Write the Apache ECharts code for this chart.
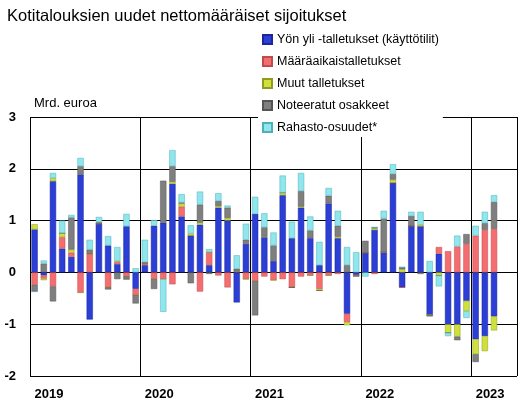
<!DOCTYPE html>
<html>
<head>
<meta charset="utf-8">
<script src="https://cdn.jsdelivr.net/npm/echarts@6/dist/echarts.min.js"></script>
<style>html,body{margin:0;background:#fff}#c{width:518px;height:408px}</style>
</head>
<body>
<div id="c"></div>
<script>
// months Jan 2019 .. May 2023 (last two empty)
const months = [];
for (let y = 2019; y <= 2023; y++) {
    for (let m = 1; m <= 12; m++) {
        if (y === 2023 && m > 5) break;
        months.push(y + '-' + m);
    }
}

const overnight = [0.83, -0.06, 1.76, 0.46, 0.3, 1.89, -0.91, 0.94, 0.52, 0.16, 0.89, -0.32,
    0.14, 0.9, 0.96, 1.71, 1.08, 0.71, 0.92, 0.14, 1.25, 1.0, -0.58, 0.55,
    1.13, 0.68, 0.22, 1.49, 0.66, 1.25, 0.66, 0.14, 1.33, 0.66, -0.8, -0.05,
    0.38, 0.82, 0.39, 1.73, -0.29, 0.9, 0.89, -0.82, 0.36, -1.0, -1.0, -0.55,
    -1.29, -1.23, -0.85, null, null];
const fixedTerm = [-0.24, -0.06, -0.27, 0.22, 0.08, -0.39, 0.36, 0, -0.29, 0.04, -0.08, -0.12,
    0.03, -0.13, -0.13, -0.23, 0.19, 0, -0.37, 0.25, -0.06, -0.29, 0.02, -0.13,
    -0.17, -0.08, -0.15, -0.13, -0.29, -0.08, -0.06, -0.32, -0.06, -0.03, -0.16, -0.02,
    0, -0.03, 0, 0, 0, 0, 0, 0, 0.13, 0.41, 0.5, 0.55,
    0.71, 0.82, 0.84, null, null];
const otherDeposits = [0.1, -0.03, 0.06, 0.08, 0.06, 0, 0, 0, 0, 0.02, 0, 0,
    0, 0, 0, 0.04, 0.06, 0.04, 0.04, 0, 0.03, 0.05, 0, 0,
    0, 0.01, 0, 0.05, 0, 0.02, 0, -0.03, 0, 0.03, -0.06, 0,
    0, 0.03, 0, 0.06, 0.06, 0, 0.03, 0, -0.06, -0.17, -0.24, -0.2,
    -0.29, -0.29, -0.27, null, null];
const listedShares = [-0.13, 0.17, -0.29, 0, 0.62, 0.16, 0.08, 0.03, -0.04, -0.13, -0.06, -0.16,
    0.03, -0.19, 0.81, 0.3, 0.02, -0.21, 0.35, -0.03, 0.1, 0.2, 0.05, 0.08,
    -0.66, 0.18, 0.3, 0, 0, 0.3, 0.15, 0, 0.15, 0.21, 0.14, 0,
    0.23, 0.02, 0.65, 0.11, 0.04, 0.19, -0.03, -0.03, 0, 0, -0.07, 0.19,
    -0.15, 0.13, 0.52, null, null];
const fundShares = [0, 0.06, 0.1, 0.24, 0.05, 0.16, 0.19, 0.1, 0.18, 0.27, 0.24, 0.08,
    0.43, 0.11, -0.63, 0.31, 0.16, 0.16, 0.25, 0.06, 0.15, 0.04, 0.26, 0.31,
    0.33, 0.27, 0.25, 0.33, 0.32, 0.35, 0.27, 0.45, 0.15, 0.29, 0.35, 0.39,
    -0.08, 0, 0.15, 0.19, 0, 0.08, 0.25, 0.22, -0.21, -0.06, 0.21, -0.13,
    0.19, 0.22, 0.13, null, null];

const seriesNames = ['Yön yli -talletukset (käyttötilit)', 'Määräaikaistalletukset',
    'Muut talletukset', 'Noteeratut osakkeet', 'Rahasto-osuudet*'];
const seriesData = [overnight, fixedTerm, otherDeposits, listedShares, fundShares];
const colors = ['#2b3ed6', '#f46e70', '#cfe03c', '#7f7f7f', '#8fe6ec'];
const borders = ['#1a2699', '#c04a4c', '#8f9c20', '#555555', '#4fb0b8'];

let chart = echarts.init(document.getElementById('c'));

const option = {
    animation: false,
    textStyle: { fontFamily: 'Liberation Sans, Arial, sans-serif' },
    title: {
        text: 'Kotitalouksien uudet nettomääräiset sijoitukset',
        left: 2, top: 3,
        textStyle: { fontSize: 16.5, fontWeight: 'normal', color: '#000' }
    },
    legend: {
        orient: 'vertical',
        left: 258, top: 30,
        itemGap: 9,
        itemWidth: 9, itemHeight: 9,
        backgroundColor: '#fff',
        padding: [3, 4, 3, 4],
        textStyle: { fontSize: 12.5, color: '#000' },
        data: seriesNames.map(function (n) { return { name: n, icon: 'rect' }; })
    },
    grid: { left: 30, right: 1, top: 117, bottom: 32 },
    graphic: [{
        type: 'text', left: 34, top: 97,
        style: { text: 'Mrd. euroa', fontSize: 13, fill: '#000' }
    }],
    xAxis: {
        type: 'category',
        data: months,
        axisLine: { show: false },
        axisTick: { show: false },
        axisLabel: {
            interval: 11, align: 'left', margin: 12,
            fontSize: 13, color: '#000', fontWeight: 'bold',
            formatter: function (v) { return v.split('-')[0]; }
        },
        splitLine: { show: true, interval: 11, lineStyle: { color: '#000', width: 1 } }
    },
    yAxis: {
        type: 'value',
        min: -2, max: 3, interval: 1,
        axisLine: { show: false },
        axisTick: { show: false },
        axisLabel: { fontSize: 13, color: '#000', fontWeight: 'bold', margin: 14 },
        splitLine: { lineStyle: { color: '#000', width: 1 } }
    },
    series: seriesNames.map(function (n, i) {
        return {
            name: n, type: 'bar', stack: 'total',
            barCategoryGap: '32%',
            data: seriesData[i],
            itemStyle: { color: colors[i], borderColor: borders[i], borderWidth: 0.5 }
        };
    })
};

chart.setOption(option);
</script>
</body>
</html>
